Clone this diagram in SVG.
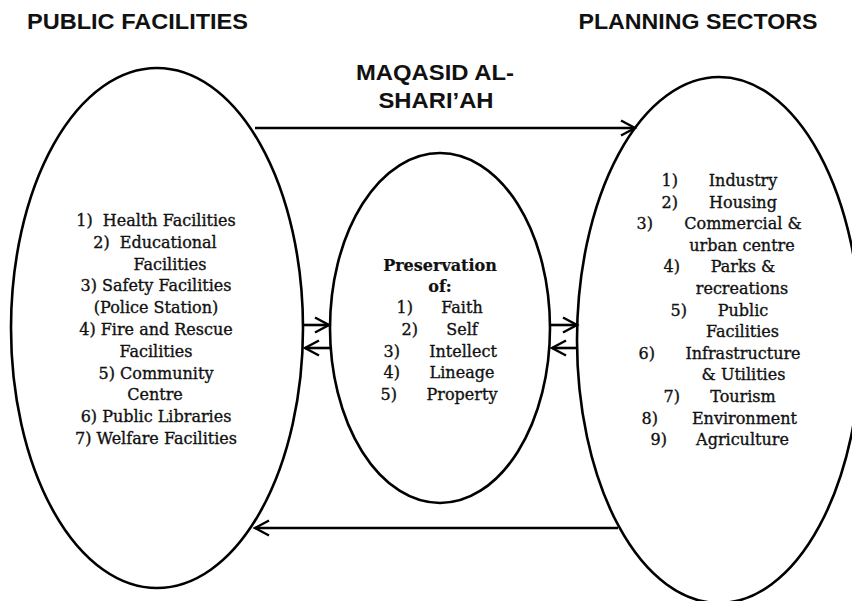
<svg xmlns="http://www.w3.org/2000/svg" width="852" height="601" viewBox="0 0 852 601">
<defs>
<style>
.shape{fill:none;stroke:#000;stroke-width:2.6}
.conn{fill:none;stroke:#000;stroke-width:2.6}
.head{font-family:"Liberation Sans",Arial,sans-serif;font-weight:bold;font-size:22px;fill:#111;text-anchor:middle}
.li{font-family:"DejaVu Serif","Liberation Serif",serif;font-size:16px;fill:#111;stroke:#111;stroke-width:0.35;text-anchor:middle;white-space:pre}
.num{font-family:"DejaVu Serif","Liberation Serif",serif;font-size:16px;fill:#111;stroke:#111;stroke-width:0.35;text-anchor:end}
.b{font-weight:bold;stroke-width:0.2}
</style>
<marker id="arr" markerUnits="userSpaceOnUse" markerWidth="18" markerHeight="18" refX="14" refY="7.5" orient="auto" overflow="visible">
<path d="M0,0 L14,7.5 L0,15" fill="none" stroke="#000" stroke-width="2.4" stroke-linejoin="miter"/>
</marker>
</defs>
<rect width="852" height="601" fill="#fff"/>

<g id="title-public">
<text class="head" x="137.5" y="29" textLength="221" lengthAdjust="spacingAndGlyphs">PUBLIC FACILITIES</text>
</g>
<g id="title-planning">
<text class="head" x="698" y="29" textLength="239" lengthAdjust="spacingAndGlyphs">PLANNING SECTORS</text>
</g>

<g id="public-facilities">
<ellipse class="shape" cx="157" cy="328" rx="146" ry="260"/>
<text class="li" x="156" y="226">1)  Health Facilities</text>
<text class="li" x="155" y="248">2)  Educational</text>
<text class="li" x="170" y="269.5">Facilities</text>
<text class="li" x="156" y="291.3">3) Safety Facilities</text>
<text class="li" x="156" y="313.1">(Police Station)</text>
<text class="li" x="156" y="335">4) Fire and Rescue</text>
<text class="li" x="156" y="356.8">Facilities</text>
<text class="li" x="156" y="378.6">5) Community</text>
<text class="li" x="155" y="400.4">Centre</text>
<text class="li" x="156" y="422.2">6) Public Libraries</text>
<text class="li" x="156" y="444">7) Welfare Facilities</text>
</g>

<g id="preservation">
<ellipse class="shape" cx="440" cy="328" rx="110" ry="175"/>
<text class="li b" x="440" y="271">Preservation</text>
<text class="li b" x="440" y="292">of:</text>
<text class="num" x="413" y="313">1)</text><text class="li" x="462" y="313">Faith</text>
<text class="num" x="418" y="334.5">2)</text><text class="li" x="462" y="334.5">Self</text>
<text class="num" x="400" y="356.5">3)</text><text class="li" x="463" y="356.5">Intellect</text>
<text class="num" x="400" y="378">4)</text><text class="li" x="462" y="378">Lineage</text>
<text class="num" x="397" y="399.5">5)</text><text class="li" x="462" y="399.5">Property</text>
</g>

<g id="planning-sectors">
<ellipse class="shape" cx="719" cy="340" rx="142" ry="263"/>
<text class="num" x="678" y="186">1)</text><text class="li" x="743" y="186">Industry</text>
<text class="num" x="678" y="207.6">2)</text><text class="li" x="743" y="207.6">Housing</text>
<text class="num" x="653" y="229.2">3)</text><text class="li" x="743" y="229.2">Commercial &amp;</text>
<text class="li" x="742" y="250.8">urban centre</text>
<text class="num" x="680" y="272.4">4)</text><text class="li" x="743" y="272.4">Parks &amp;</text>
<text class="li" x="742" y="294">recreations</text>
<text class="num" x="687" y="315.6">5)</text><text class="li" x="743" y="315.6">Public</text>
<text class="li" x="742.5" y="337.2">Facilities</text>
<text class="num" x="655" y="358.8">6)</text><text class="li" x="743" y="358.8">Infrastructure</text>
<text class="li" x="743.5" y="380.4">&amp; Utilities</text>
<text class="num" x="680" y="402">7)</text><text class="li" x="743" y="402">Tourism</text>
<text class="num" x="658" y="423.6">8)</text><text class="li" x="744.5" y="423.6">Environment</text>
<text class="num" x="667" y="445.2">9)</text><text class="li" x="742.5" y="445.2">Agriculture</text>
</g>

<g id="connectors">
<line class="conn" x1="255" y1="128" x2="635" y2="128" marker-end="url(#arr)"/>
<line class="conn" x1="618" y1="528" x2="255" y2="528" marker-end="url(#arr)"/>
<line class="conn" x1="303" y1="325" x2="329" y2="325" marker-end="url(#arr)"/>
<line class="conn" x1="331" y1="348" x2="305" y2="348" marker-end="url(#arr)"/>
<line class="conn" x1="550" y1="325" x2="577" y2="325" marker-end="url(#arr)"/>
<line class="conn" x1="578" y1="348" x2="552" y2="348" marker-end="url(#arr)"/>
<text class="head" x="435" y="80" textLength="158" lengthAdjust="spacingAndGlyphs">MAQASID AL-</text>
<text class="head" x="436" y="108" textLength="115" lengthAdjust="spacingAndGlyphs">SHARI’AH</text>
</g>
</svg>
